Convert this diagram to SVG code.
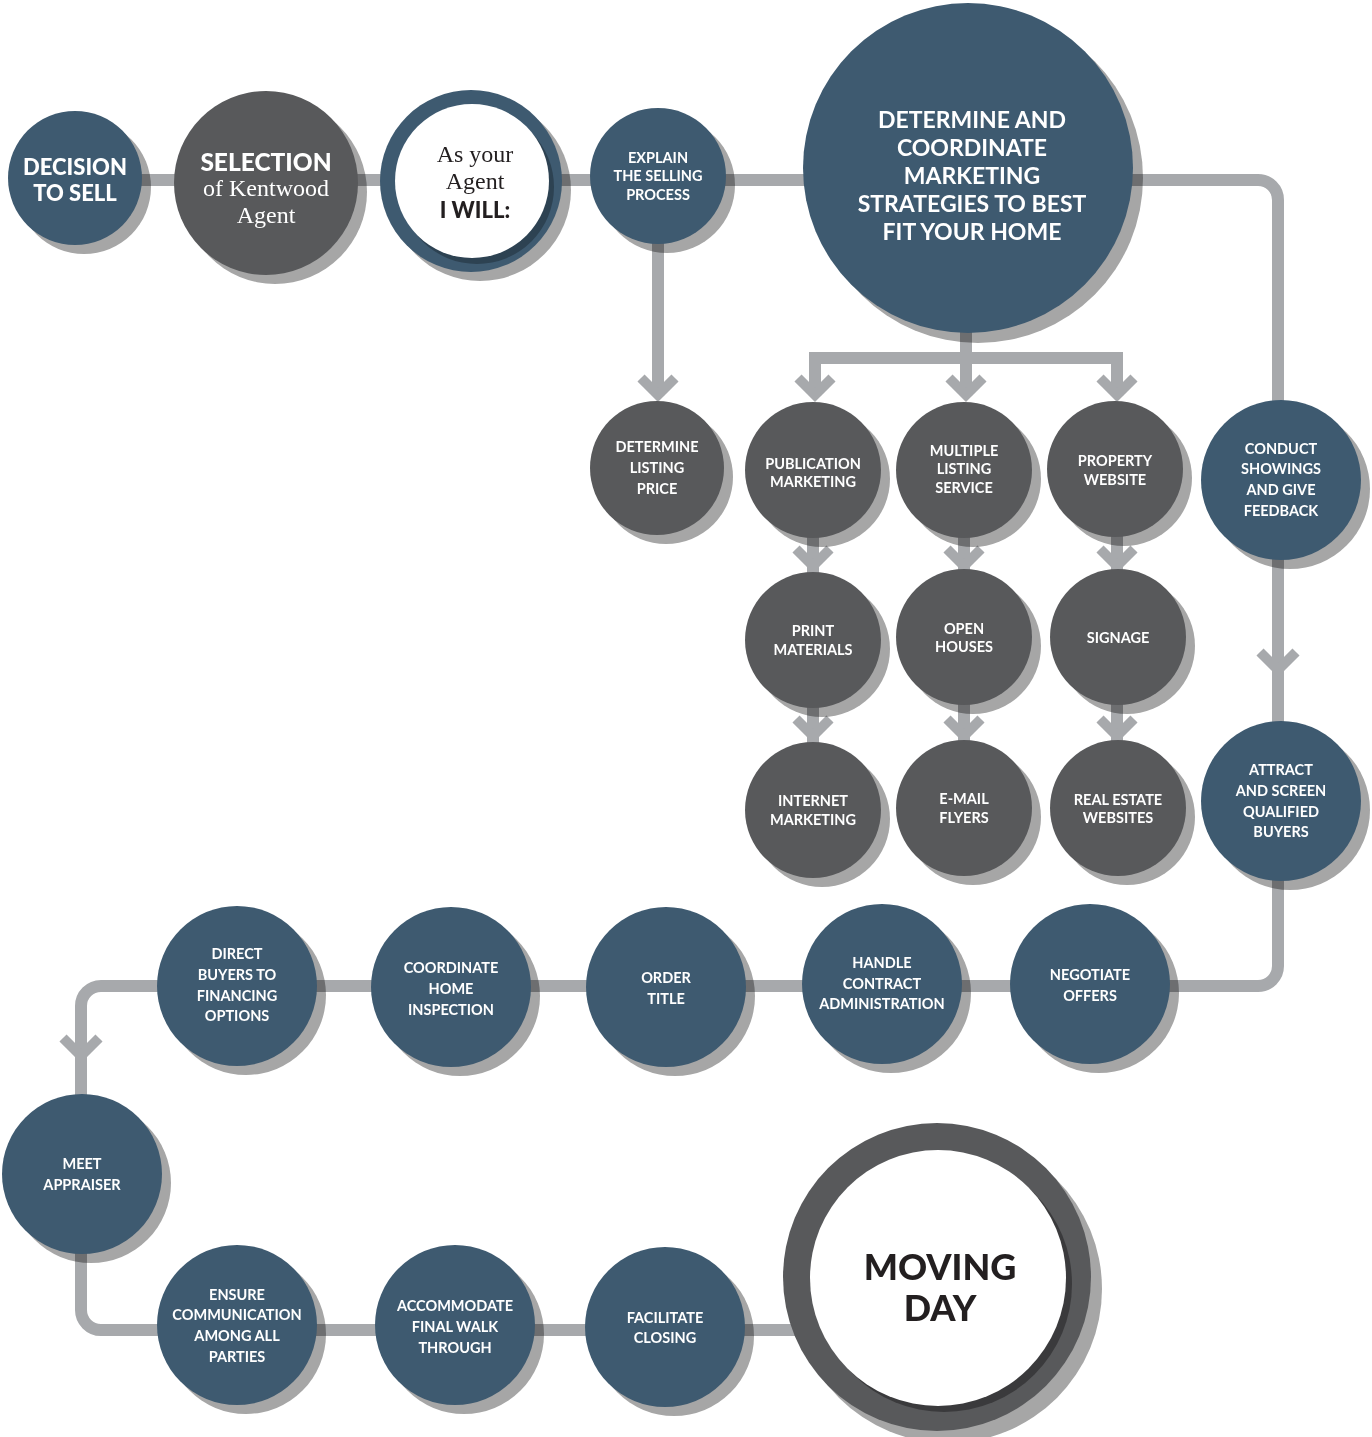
<svg xmlns="http://www.w3.org/2000/svg" width="1372" height="1437" viewBox="0 0 1372 1437">
<style>
.bg{fill:#ffffff}
.ln{fill:none;stroke:#a7a9ac;stroke-width:12}
.ch{fill:none;stroke:#a7a9ac;stroke-width:10;stroke-linejoin:miter;stroke-miterlimit:10}
.sh{fill:#a6a6a6;mix-blend-mode:multiply}
.b{fill:#3e5a70}
.g{fill:#58595b}
.w{fill:#ffffff}
.t{font-family:Lato,"Liberation Sans",sans-serif;font-weight:700;fill:#ffffff;text-anchor:middle;dominant-baseline:central;font-size:14.5px}
.tl{font-size:22px}
.tb{font-size:23px}
.sr{font-family:"Liberation Serif",serif;font-weight:400;text-anchor:middle;dominant-baseline:central;font-size:24px}
.dk{fill:#231f20}
</style>
<rect class="bg" x="0" y="0" width="1372" height="1437"/>
<g id="connectors">
<path class="ln" d="M140 180 H1258 A20 20 0 0 1 1278 200 V966 A20 20 0 0 1 1258 986 H101 A20 20 0 0 0 81 1006 V1310 A20 20 0 0 0 101 1330 H800"/>
<path class="ln" d="M658 176 V393"/>
<path class="ln" d="M966 320 V393 M815 393 V358 H1117 V393"/>
<path class="ln" d="M813 470 V810 M964 470 V808 M1117 470 V808"/>
<polyline class="ch" points="641,378 658,395 675,378"/>
<polyline class="ch" points="798,378 815,395 832,378"/>
<polyline class="ch" points="949,378 966,395 983,378"/>
<polyline class="ch" points="1100,378 1117,395 1134,378"/>
<polyline class="ch" points="796,549 813,566 830,549"/>
<polyline class="ch" points="947,549 964,566 981,549"/>
<polyline class="ch" points="1100,549 1117,566 1134,549"/>
<polyline class="ch" points="796,719 813,736 830,719"/>
<polyline class="ch" points="947,719 964,736 981,719"/>
<polyline class="ch" points="1100,719 1117,736 1134,719"/>
<polyline class="ch" points="1260,652 1278,670 1296,652"/>
<polyline class="ch" points="63,1038 81,1056 99,1038"/>
</g>
<g id="n-decision"><circle class="sh" cx="84" cy="187" r="67"/><circle class="b" cx="75" cy="178" r="67"/>
<text class="t tl" style="font-weight:900" x="75" y="166">DECISION</text><text class="t tl" style="font-weight:900" x="75" y="192">TO SELL</text></g>
<g id="n-selection"><circle class="sh" cx="275" cy="192" r="92"/><circle class="g" cx="266" cy="183" r="92"/>
<text class="t" style="font-size:24.5px;font-weight:900" x="266" y="161">SELECTION</text>
<text class="sr" style="fill:#fff" x="266" y="188">of Kentwood</text><text class="sr" style="fill:#fff" x="266" y="215">Agent</text></g>
<g id="n-agent"><circle class="sh" cx="480" cy="190" r="91"/><circle class="b" cx="471" cy="181" r="91"/>
<circle fill="#2d4252" cx="477" cy="187" r="77"/><circle class="w" cx="472" cy="181" r="77"/>
<text class="sr dk" x="475" y="154">As your</text><text class="sr dk" x="475" y="181">Agent</text>
<text class="t dk" style="font-size:22px;font-weight:900" x="475" y="209">I WILL:</text></g>
<g id="n-explain"><circle class="sh" cx="667" cy="185" r="68"/><circle class="b" cx="658" cy="176" r="68"/>
<text class="t" x="658" y="157">EXPLAIN</text><text class="t" x="658" y="175">THE SELLING</text><text class="t" x="658" y="194">PROCESS</text></g>
<g id="n-strategies"><circle class="sh" cx="978" cy="178" r="165"/><circle class="b" cx="968" cy="168" r="165"/>
<text class="t tb" x="972" y="119">DETERMINE AND</text><text class="t tb" x="972" y="147">COORDINATE</text><text class="t tb" x="972" y="175">MARKETING</text><text class="t tb" x="972" y="203">STRATEGIES TO BEST</text><text class="t tb" x="972" y="231">FIT YOUR HOME</text></g>
<g id="n-price"><circle class="sh" cx="666" cy="477" r="67"/><circle class="g" cx="657" cy="468" r="67"/>
<text class="t" x="657" y="446">DETERMINE</text><text class="t" x="657" y="467">LISTING</text><text class="t" x="657" y="488">PRICE</text></g>
<g id="n-publication"><circle class="sh" cx="822" cy="479" r="68"/><circle class="g" cx="813" cy="470" r="68"/>
<text class="t" x="813" y="463">PUBLICATION</text><text class="t" x="813" y="481">MARKETING</text></g>
<g id="n-mls"><circle class="sh" cx="973" cy="479" r="68"/><circle class="g" cx="964" cy="470" r="68"/>
<text class="t" x="964" y="450">MULTIPLE</text><text class="t" x="964" y="468">LISTING</text><text class="t" x="964" y="487">SERVICE</text></g>
<g id="n-website"><circle class="sh" cx="1124" cy="478" r="68"/><circle class="g" cx="1115" cy="469" r="68"/>
<text class="t" x="1115" y="460">PROPERTY</text><text class="t" x="1115" y="479">WEBSITE</text></g>
<g id="n-showings"><circle class="sh" cx="1290" cy="489" r="80"/><circle class="b" cx="1281" cy="480" r="80"/>
<text class="t" x="1281" y="448">CONDUCT</text><text class="t" x="1281" y="468">SHOWINGS</text><text class="t" x="1281" y="489">AND GIVE</text><text class="t" x="1281" y="510">FEEDBACK</text></g>
<g id="n-print"><circle class="sh" cx="822" cy="649" r="68"/><circle class="g" cx="813" cy="640" r="68"/>
<text class="t" x="813" y="630">PRINT</text><text class="t" x="813" y="649">MATERIALS</text></g>
<g id="n-open"><circle class="sh" cx="973" cy="646" r="68"/><circle class="g" cx="964" cy="637" r="68"/>
<text class="t" x="964" y="628">OPEN</text><text class="t" x="964" y="646">HOUSES</text></g>
<g id="n-signage"><circle class="sh" cx="1127" cy="646" r="68"/><circle class="g" cx="1118" cy="637" r="68"/>
<text class="t" x="1118" y="637">SIGNAGE</text></g>
<g id="n-internet"><circle class="sh" cx="822" cy="819" r="68"/><circle class="g" cx="813" cy="810" r="68"/>
<text class="t" x="813" y="800">INTERNET</text><text class="t" x="813" y="819">MARKETING</text></g>
<g id="n-email"><circle class="sh" cx="973" cy="817" r="68"/><circle class="g" cx="964" cy="808" r="68"/>
<text class="t" x="964" y="798">E-MAIL</text><text class="t" x="964" y="817">FLYERS</text></g>
<g id="n-rewebsites"><circle class="sh" cx="1127" cy="817" r="68"/><circle class="g" cx="1118" cy="808" r="68"/>
<text class="t" x="1118" y="799">REAL ESTATE</text><text class="t" x="1118" y="817">WEBSITES</text></g>
<g id="n-attract"><circle class="sh" cx="1290" cy="810" r="80"/><circle class="b" cx="1281" cy="801" r="80"/>
<text class="t" x="1281" y="769">ATTRACT</text><text class="t" x="1281" y="790">AND SCREEN</text><text class="t" x="1281" y="811">QUALIFIED</text><text class="t" x="1281" y="831">BUYERS</text></g>
<g id="n-negotiate"><circle class="sh" cx="1099" cy="993" r="80"/><circle class="b" cx="1090" cy="984" r="80"/>
<text class="t" x="1090" y="974">NEGOTIATE</text><text class="t" x="1090" y="995">OFFERS</text></g>
<g id="n-contract"><circle class="sh" cx="891" cy="993" r="80"/><circle class="b" cx="882" cy="984" r="80"/>
<text class="t" x="882" y="962">HANDLE</text><text class="t" x="882" y="983">CONTRACT</text><text class="t" x="882" y="1003">ADMINISTRATION</text></g>
<g id="n-title"><circle class="sh" cx="675" cy="996" r="80"/><circle class="b" cx="666" cy="987" r="80"/>
<text class="t" x="666" y="977">ORDER</text><text class="t" x="666" y="998">TITLE</text></g>
<g id="n-inspection"><circle class="sh" cx="460" cy="996" r="80"/><circle class="b" cx="451" cy="987" r="80"/>
<text class="t" x="451" y="967">COORDINATE</text><text class="t" x="451" y="988">HOME</text><text class="t" x="451" y="1009">INSPECTION</text></g>
<g id="n-financing"><circle class="sh" cx="246" cy="995" r="80"/><circle class="b" cx="237" cy="986" r="80"/>
<text class="t" x="237" y="953">DIRECT</text><text class="t" x="237" y="974">BUYERS TO</text><text class="t" x="237" y="995">FINANCING</text><text class="t" x="237" y="1015">OPTIONS</text></g>
<g id="n-appraiser"><circle class="sh" cx="91" cy="1183" r="80"/><circle class="b" cx="82" cy="1174" r="80"/>
<text class="t" x="82" y="1163">MEET</text><text class="t" x="82" y="1184">APPRAISER</text></g>
<g id="n-communication"><circle class="sh" cx="246" cy="1334" r="80"/><circle class="b" cx="237" cy="1325" r="80"/>
<text class="t" x="237" y="1294">ENSURE</text><text class="t" x="237" y="1314">COMMUNICATION</text><text class="t" x="237" y="1335">AMONG ALL</text><text class="t" x="237" y="1356">PARTIES</text></g>
<g id="n-walkthrough"><circle class="sh" cx="464" cy="1334" r="80"/><circle class="b" cx="455" cy="1325" r="80"/>
<text class="t" x="455" y="1305">ACCOMMODATE</text><text class="t" x="455" y="1326">FINAL WALK</text><text class="t" x="455" y="1347">THROUGH</text></g>
<g id="n-closing"><circle class="sh" cx="674" cy="1336" r="80"/><circle class="b" cx="665" cy="1327" r="80"/>
<text class="t" x="665" y="1317">FACILITATE</text><text class="t" x="665" y="1337">CLOSING</text></g>
<g id="n-movingday"><circle class="sh" cx="948" cy="1289" r="154"/><circle class="g" cx="937" cy="1277" r="154"/>
<circle fill="#3a3a3c" cx="944" cy="1284" r="128"/><circle class="w" cx="938" cy="1278" r="128"/>
<text class="t dk" style="font-size:36px;font-weight:900" x="940" y="1266">MOVING</text><text class="t dk" style="font-size:36px;font-weight:900" x="940" y="1307">DAY</text></g>
</svg>
